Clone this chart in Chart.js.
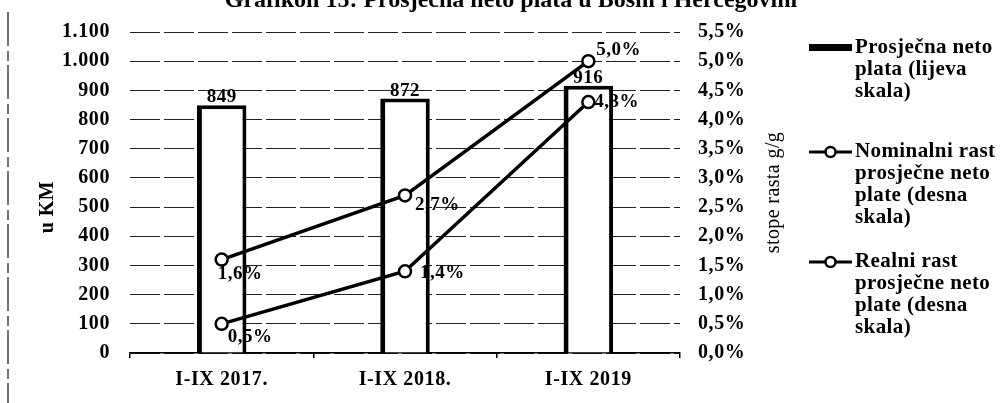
<!DOCTYPE html>
<html><head><meta charset="utf-8">
<script src="https://cdn.jsdelivr.net/npm/chart.js@4.4.1/dist/chart.umd.min.js"></script>
<style>
html,body{margin:0;padding:0;background:#fff;}
#wrap{position:relative;width:1001px;height:403px;overflow:hidden;background:#fff;}
#title{position:absolute;left:0;top:-15px;width:1022px;text-align:center;font:bold 24px "Liberation Serif",serif;color:#000;white-space:nowrap;line-height:28px;}
canvas{position:absolute;left:0;top:0;}
</style></head><body>
<div id="wrap"><canvas id="c" width="1001" height="403"></canvas><div id="title">Grafikon 15: Prosječna neto plata u Bosni i Hercegovini</div></div>
<script>
const categories = ['I-IX 2017.', 'I-IX 2018.', 'I-IX 2019'];
const netoPlata = [849, 872, 916];
const nominalniRast = [1.6, 2.7, 5.0];
const realniRast = [0.5, 1.4, 4.3];
const leftTickLabels = ['0','100','200','300','400','500','600','700','800','900','1.000','1.100'];
const rightTickLabels = ['0,0%','0,5%','1,0%','1,5%','2,0%','2,5%','3,0%','3,5%','4,0%','4,5%','5,0%','5,5%'];
const legendBar = ['Prosječna neto', 'plata (lijeva', 'skala)'];
const legendNominal = ['Nominalni rast', 'prosječne neto', 'plate (desna', 'skala)'];
const legendReal = ['Realni rast', 'prosječne neto', 'plate (desna', 'skala)'];
const leftTitle = 'u KM';
const rightTitle = 'stope rasta g/g';

const FONT = '"Liberation Serif", "Times New Roman", serif';
const fmtPct = v => v.toFixed(1).replace('.', ',') + '%';

// label offsets (style only): [dx, dy] from point
const nomOffsets = [[-4, 14], [10, 10], [8, -11]];
const realOffsets = [[6, 13], [15, 2], [6, 0]];

const framePlugin = {
  id: 'frame',
  beforeDraw(chart) {
    const ctx = chart.ctx;
    ctx.letterSpacing = '0.6px';
    ctx.save();
    ctx.strokeStyle = '#444';
    ctx.lineWidth = 1.5;
    ctx.setLineDash([34, 5, 10, 4]);
    ctx.beginPath();
    ctx.moveTo(8, 12);
    ctx.lineTo(8, 403);
    ctx.stroke();
    ctx.restore();
  }
};

const labelPlugin = {
  id: 'valueLabels',
  afterDatasetsDraw(chart) {
    const ctx = chart.ctx;
    ctx.save();
    ctx.letterSpacing = '0.5px';
    ctx.fillStyle = '#000';
    ctx.font = 'bold 19px ' + FONT;
    ctx.textAlign = 'center';
    ctx.textBaseline = 'alphabetic';
    chart.getDatasetMeta(0).data.forEach((el, i) => {
      ctx.fillText(String(netoPlata[i]), el.x, el.y - 3);
    });
    ctx.textAlign = 'left';
    ctx.textBaseline = 'middle';
    chart.getDatasetMeta(1).data.forEach((el, i) => {
      ctx.fillText(fmtPct(nominalniRast[i]), el.x + nomOffsets[i][0], el.y + nomOffsets[i][1]);
    });
    chart.getDatasetMeta(2).data.forEach((el, i) => {
      ctx.fillText(fmtPct(realniRast[i]), el.x + realOffsets[i][0], el.y + realOffsets[i][1]);
    });
    ctx.restore();
  }
};

const legendPlugin = {
  id: 'sideLegend',
  afterDraw(chart) {
    const ctx = chart.ctx;
    const items = [
      {kind: 'bar', lines: legendBar, y: 48},
      {kind: 'line', lines: legendNominal, y: 152},
      {kind: 'line', lines: legendReal, y: 262}
    ];
    const x0 = 809, x1 = 852, tx = 855, lh = 22;
    ctx.save();
    ctx.letterSpacing = '0.4px';
    ctx.fillStyle = '#000';
    ctx.strokeStyle = '#000';
    items.forEach(it => {
      if (it.kind === 'bar') {
        ctx.fillRect(x0, it.y - 4, x1 - x0, 7);
      } else {
        ctx.lineWidth = 3;
        ctx.beginPath();
        ctx.moveTo(x0, it.y);
        ctx.lineTo(x1, it.y);
        ctx.stroke();
        ctx.beginPath();
        ctx.arc((x0 + x1) / 2, it.y, 5, 0, Math.PI * 2);
        ctx.fillStyle = '#fff';
        ctx.fill();
        ctx.lineWidth = 2.5;
        ctx.stroke();
        ctx.fillStyle = '#000';
      }
      ctx.font = 'bold 21px ' + FONT;
      ctx.textAlign = 'left';
      ctx.textBaseline = 'middle';
      it.lines.forEach((t, k) => ctx.fillText(t, tx, it.y + k * lh));
    });
    const area = chart.chartArea;
    // right axis title, reading bottom-to-top
    ctx.save();
    ctx.translate(774, (area.top + area.bottom) / 2);
    ctx.rotate(-Math.PI / 2);
    ctx.font = '20px ' + FONT;
    ctx.textAlign = 'center';
    ctx.textBaseline = 'middle';
    ctx.fillText(rightTitle, 0, 0);
    ctx.restore();
    // left axis title
    ctx.save();
    ctx.translate(48, chart.scales.y.getPixelForValue(500));
    ctx.rotate(-Math.PI / 2);
    ctx.font = 'bold 20px ' + FONT;
    ctx.textAlign = 'center';
    ctx.textBaseline = 'middle';
    ctx.fillText(leftTitle, 0, 0);
    ctx.restore();
    ctx.restore();
  }
};

const tickFont = {family: FONT, size: 20, weight: 'bold'};

new Chart(document.getElementById('c'), {
  type: 'bar',
  data: {
    labels: categories,
    datasets: [
      {
        type: 'bar', label: legendBar.join(' '), data: netoPlata, yAxisID: 'y',
        backgroundColor: '#fff', borderColor: '#000',
        borderWidth: {left: 5, right: 4, top: 4, bottom: 0},
        barPercentage: 0.27, categoryPercentage: 1, order: 2
      },
      {
        type: 'line', label: legendNominal.join(' '), data: nominalniRast, yAxisID: 'y1',
        borderColor: '#000', borderWidth: 3.5, pointRadius: 6,
        pointBackgroundColor: '#fff', pointBorderColor: '#000', pointBorderWidth: 2.5, order: 1
      },
      {
        type: 'line', label: legendReal.join(' '), data: realniRast, yAxisID: 'y1',
        borderColor: '#000', borderWidth: 3.5, pointRadius: 6,
        pointBackgroundColor: '#fff', pointBorderColor: '#000', pointBorderWidth: 2.5, order: 1
      }
    ]
  },
  options: {
    responsive: false,
    animation: false,
    layout: {padding: {left: 0, right: 211, top: 32, bottom: 0}},
    plugins: {legend: {display: false}, tooltip: {enabled: false}, title: {display: false}},
    scales: {
      x: {
        offset: true,
        grid: {offset: true, drawOnChartArea: false, drawTicks: true, tickLength: 5, color: '#000', lineWidth: 1.5},
        border: {display: true, color: '#000', width: 1.5},
        ticks: {font: tickFont, color: '#000', padding: 10, maxRotation: 0},
        afterFit(s) { s.height = 50; }
      },
      y: {
        position: 'left', min: 0, max: 1100,
        ticks: {stepSize: 100, font: tickFont, color: '#000', padding: 20,
          callback: (v, i) => leftTickLabels[i]},
        grid: {color: '#222', lineWidth: 1, drawTicks: false},
        border: {display: false, dash: [30, 4]},
        afterFit(s) { s.width = 130; }
      },
      y1: {
        position: 'right', min: 0, max: 5.5,
        ticks: {stepSize: 0.5, font: tickFont, color: '#000', padding: 18,
          callback: (v, i) => rightTickLabels[i]},
        grid: {display: false, drawTicks: false},
        border: {display: false},
        afterFit(s) { s.width = 110; }
      }
    }
  },
  plugins: [framePlugin, labelPlugin, legendPlugin]
});
</script>
</body></html>
